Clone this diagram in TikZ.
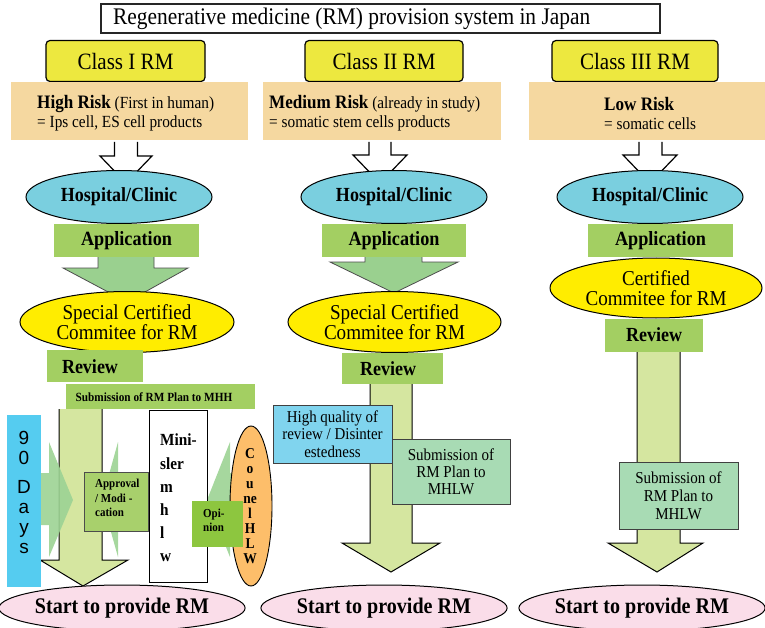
\documentclass[tikz,border=0pt]{standalone}
\usepackage{fontspec}
\setmainfont[FakeStretch=0.9]{Liberation Serif}
\newfontfamily\daysfont{Liberation Sans}
\usetikzlibrary{shapes.geometric}
\definecolor{clsyellow}{HTML}{EDE83F}
\definecolor{tan}{HTML}{F5D8A0}
\definecolor{hospblue}{HTML}{7ACFDF}
\definecolor{appgreen}{HTML}{A3CF62}
\definecolor{arrgreen}{HTML}{9AD08F}
\definecolor{comyellow}{HTML}{FFED00}
\definecolor{bigarrow}{HTML}{D5E6A0}
\definecolor{daysblue}{HTML}{55CCF0}
\definecolor{apprgreen}{HTML}{A8D06C}
\definecolor{opgreen}{HTML}{8DC63F}
\definecolor{councilorange}{HTML}{FDBE6A}
\definecolor{startpink}{HTML}{FADDE9}
\definecolor{hqblue}{HTML}{80D4EE}
\definecolor{subgreen}{HTML}{A8DBB4}
\definecolor{sidegreen}{HTML}{9CD394}
\newcommand\fsz[2]{\fontsize{#1}{#2}\selectfont}
\begin{document}
\begin{tikzpicture}[x=1pt,y=-1pt,
  titlebox/.style={draw=black!85,line width=1.6pt,fill=white,inner sep=0pt},
  classbox/.style={draw=black,line width=1.2pt,fill=clsyellow,rounded corners=4pt,inner sep=0pt,font=\fsz{23.4}{26}},
  tanbox/.style={fill=tan,inner sep=0pt},
  hosp/.style={ellipse,draw=black,line width=1pt,fill=hospblue,inner sep=0pt,minimum width=186pt,minimum height=53pt,font=\bfseries\fsz{20}{22}},
  appbox/.style={fill=appgreen,inner sep=0pt,minimum height=33pt,font=\bfseries\fsz{20.2}{22}},
  comm/.style={ellipse,draw=black,line width=1pt,fill=comyellow,inner sep=0pt,minimum height=61pt,align=center,font=\fsz{21.2}{20}},
  reviewbox/.style={fill=appgreen,inner sep=0pt,font=\bfseries\fsz{20}{22}},
  startell/.style={ellipse,draw=black,line width=1pt,fill=startpink,inner sep=0pt,minimum height=46pt,font=\bfseries\fsz{22.3}{24}},
  whitearrow/.style={draw=black,line width=1.2pt,fill=white},
  greenarrow/.style={draw=black!70,line width=0.8pt,fill=arrgreen},
  bigarr/.style={draw=black,line width=1pt,fill=bigarrow},
  sidearr/.style={fill=sidegreen,fill opacity=0.9},
  txt/.style={inner sep=0pt}
]
\useasboundingbox (0,0) rectangle (765,628);

% ---------- title ----------
\node[titlebox,minimum width=559pt,minimum height=29pt] (title) at (380.5,18.5) {};
\node[txt,anchor=west,font=\fsz{23.8}{26}] (titletxt) at (113,19) {Regenerative medicine (RM) provision system in Japan};

% ---------- class headers ----------
\node[classbox,minimum width=159pt,minimum height=41pt] (c1) at (125.5,61) {Class I RM};
\node[classbox,minimum width=158pt,minimum height=41pt] (c2) at (384,61) {Class II RM};
\node[classbox,minimum width=166pt,minimum height=41pt] (c3) at (635,61) {Class III RM};

% ---------- risk boxes ----------
\node[tanbox,minimum width=237pt,minimum height=58pt] (t1) at (129.5,111) {};
\node[tanbox,minimum width=238pt,minimum height=58pt] (t2) at (382,111) {};
\node[tanbox,minimum width=236pt,minimum height=58pt] (t3) at (647,111) {};
\node[txt,anchor=west,align=left,font=\fsz{17}{19}] (t1txt) at (37,113)
  {{\bfseries\fsz{19}{19}High Risk} (First in human)\\= Ips cell, ES cell products};
\node[txt,anchor=west,align=left,font=\fsz{17}{19}] (t2txt) at (269,113)
  {{\bfseries\fsz{19}{19}Medium Risk} (already in study)\\= somatic stem cells products};
\node[txt,anchor=west,align=left,font=\fsz{17}{19}] (t3txt) at (604,113)
  {{\bfseries\fsz{19}{19}Low Risk}\\= somatic cells};

% ---------- white arrows ----------
\draw[whitearrow] (114.5,142) -- (114.5,156) -- (100,156) -- (126,183) -- (152,156) -- (137.5,156) -- (137.5,142);
\draw[whitearrow] (369,142) -- (369,155) -- (353,155) -- (380,183) -- (407,155) -- (391,155) -- (391,142);
\draw[whitearrow] (639,142) -- (639,155) -- (623,155) -- (650,183) -- (677,155) -- (662,155) -- (662,142);

% ---------- hospital ----------
\node[hosp] (h1) at (119,197) {Hospital/Clinic};
\node[hosp] (h2) at (394,197) {Hospital/Clinic};
\node[hosp] (h3) at (650,197) {Hospital/Clinic};

% ---------- green arrows ----------
\draw[greenarrow] (98,256) -- (98,268) -- (63,268) -- (127,302) -- (188,268) -- (154,268) -- (154,256);
\draw[greenarrow] (365,256) -- (365,262) -- (330,262) -- (394,293) -- (458,262) -- (422,262) -- (422,256);

% ---------- application ----------
\node[appbox,minimum width=145pt] (a1) at (126.5,240.5) {Application};
\node[appbox,minimum width=144pt] (a2) at (394,240.5) {Application};
\node[appbox,minimum width=145pt] (a3) at (660.5,240.5) {Application};

% ---------- big arrows ----------
\draw[bigarr] (59,409) -- (59,560) -- (40,560) -- (83,586) -- (128,560) -- (102,560) -- (102,409);
\draw[bigarr] (370,383) -- (370,543) -- (342,543) -- (391,572) -- (440,543) -- (412,543) -- (412,383);
\draw[bigarr] (637,351) -- (637,543) -- (608,543) -- (657,572) -- (703,543) -- (680,543) -- (680,351);

% ---------- committees ----------
\node[comm,minimum width=214pt] (s1) at (127,322) {Special Certified\\Commitee for RM};
\node[comm,minimum width=213pt] (s2) at (394.5,322) {Special Certified\\Commitee for RM};
\node[comm,minimum width=212pt,minimum height=60pt] (s3) at (656,288) {Certified\\Commitee for RM};

% ---------- review ----------
\node[reviewbox,minimum width=96pt,minimum height=32pt] (r1) at (95,366) {};
\node[txt,font=\bfseries\fsz{20}{22}] (r1txt) at (90,367) {Review};
\node[reviewbox,minimum width=101pt,minimum height=31pt] (r2) at (392.5,368) {};
\node[txt,font=\bfseries\fsz{20}{22}] (r2txt) at (388,369) {Review};
\node[reviewbox,minimum width=98pt,minimum height=33pt] (r3) at (654,335) {Review};

% ---------- class I detail ----------
\node[fill=appgreen,inner sep=0pt,minimum width=189pt,minimum height=25pt] (sub1) at (160.5,396.5) {};
\node[txt,font=\bfseries\fsz{12.5}{14}] (sub1txt) at (154,397) {Submission of RM Plan to MHH};

% side arrows
\fill[sidearr] (41,473) -- (49,473) -- (49,442) -- (73,500) -- (49,557) -- (49,525) -- (41,525) -- cycle;
\fill[sidearr] (149,473) -- (118,473) -- (118,442) -- (102,500) -- (118,557) -- (118,525) -- (149,525) -- cycle;
\fill[sidearr] (250,473) -- (230,473) -- (230,442) -- (207,500) -- (230,557) -- (230,525) -- (250,525) -- cycle;

\node[fill=daysblue,inner sep=0pt,minimum width=34pt,minimum height=172pt] (days) at (24,501) {};
\node[txt,align=center,font=\daysfont\fsz{19}{20}] (daystxt) at (24,492) {9\\0\\[9pt]D\\a\\y\\s};

\node[draw=black!70,line width=0.8pt,fill=apprgreen,inner sep=0pt,minimum width=64pt,minimum height=59pt] (appr) at (116,501.5) {};
\node[txt,anchor=west,align=left,font=\bfseries\fsz{12.2}{14.5}] (apprtxt) at (95,498) {Approval\\/ Modi -\\cation};

\node[draw=black,line width=0.9pt,fill=white,inner sep=0pt,minimum width=58pt,minimum height=172pt] (mini) at (178,496) {};
\node[txt,anchor=west,align=left,font=\bfseries\fsz{17}{23.2}] (minitxt) at (160,498) {Mini-\\sler\\m\\h\\l\\w};

\node[ellipse,draw=black,line width=0.9pt,fill=councilorange,inner sep=0pt,minimum width=42pt,minimum height=160pt] (council) at (251,506) {};
\node[txt,align=center,font=\bfseries\fsz{15}{15.1}] (counciltxt) at (250,506) {C\\o\\u\\ne\\l\\H\\L\\W};

\node[fill=opgreen,inner sep=0pt,minimum width=51pt,minimum height=46pt] (opin) at (217.5,524) {};
\node[txt,anchor=west,align=left,font=\bfseries\fsz{12.2}{14}] (opintxt) at (203,520) {Opi-\\nion};

% ---------- class II detail ----------
\node[draw=black!75,line width=0.9pt,fill=hqblue,inner sep=0pt,minimum width=119pt,minimum height=58pt,align=center,font=\fsz{16.6}{17.5}] (hq) at (332.5,434) {High quality of\\review / Disinter\\estedness};
\node[draw=black!75,line width=0.9pt,fill=subgreen,inner sep=0pt,minimum width=118pt,minimum height=65pt,align=center,font=\fsz{16.7}{17}] (sub2) at (451,471.5) {Submission of\\RM Plan to\\MHLW};

% ---------- class III detail ----------
\node[draw=black!75,line width=0.9pt,fill=subgreen,inner sep=0pt,minimum width=119pt,minimum height=67pt,align=center,font=\fsz{16.7}{18}] (sub3) at (678.5,495.5) {Submission of\\RM Plan to\\MHLW};

% ---------- start ----------
\node[startell,minimum width=236pt] (st1) at (122,608) {Start to provide RM};
\node[startell,minimum width=244pt] (st2) at (384,608) {Start to provide RM};
\node[startell,minimum width=242pt] (st3) at (642,608) {Start to provide RM};
\end{tikzpicture}
\end{document}
